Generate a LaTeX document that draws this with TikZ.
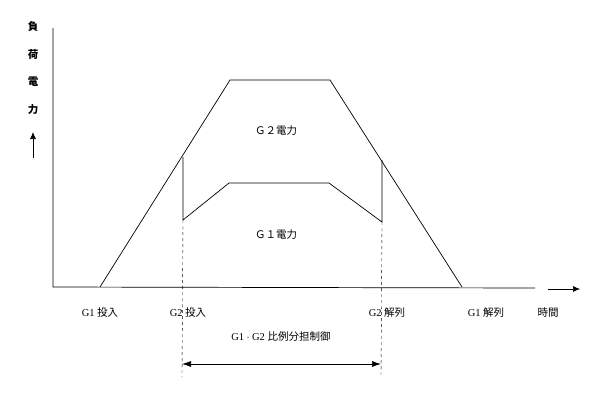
\documentclass[tikz,border=0pt]{standalone}
\usepackage{fontspec}
\setmainfont{Liberation Serif}
\newfontfamily\cjk{Noto Sans CJK JP}
\usetikzlibrary{arrows.meta}
\tikzset{
  lbl/.style={inner sep=1pt, font=\fontsize{10.5}{12}\selectfont},
  guide/.style={dashed, thin},
}
\begin{document}
\begin{tikzpicture}[x=1pt,y=-1pt, line width=0.7pt]
    \useasboundingbox (0,0) rectangle (605,400);

    % axes
    \coordinate (O) at (53,287);
    \coordinate (ytop) at (53,28);
    \coordinate (xend) at (535,288);
    \draw (ytop) -- (O) -- (xend);
    \coordinate (ta) at (548,289);
    \coordinate (tb) at (580,289);
    \draw[-{Latex[length=7pt,width=6pt]}] (ta) -- (tb);
    \node[lbl] (time) at (548,313) {\cjk 時間};

    % vertical axis label
    \foreach \ch [count=\i] in {負,荷,電,力}
        \node[lbl] (v\i) at (33,{27+27.5*(\i-1)}) {\cjk\bfseries \ch};
    \coordinate (pa) at (33,158);
    \coordinate (pb) at (33,132);
    \draw[-{Latex[length=7pt,width=6pt]}] (pa) -- (pb);

    % G1 + G2 power
    \coordinate (g1on) at (100,287);
    \coordinate (p1) at (230,80);
    \coordinate (p2) at (330,80);
    \coordinate (g1off) at (462,287);
    \draw (g1on) -- (p1) -- (p2) -- (g1off);

    % G1 power
    \coordinate (a1) at (183,157);
    \coordinate (a2) at (183,220);
    \coordinate (b1) at (229,183);
    \coordinate (b2) at (329,183);
    \coordinate (c2) at (382,222);
    \coordinate (c1) at (382,160);
    \draw (a1) -- (a2) -- (b1) -- (b2) -- (c2) -- (c1);

    \node[lbl] (g2p) at (276,131) {\cjk Ｇ２電力};
    \node[lbl] (g1p) at (276,235) {\cjk Ｇ１電力};

    % switching events
    \node[lbl] (e1) at (100,313) {G1 {\cjk 投入}};
    \node[lbl] (e2) at (188,313) {G2 {\cjk 投入}};
    \node[lbl] (e3) at (387,313) {G2 {\cjk 解列}};
    \node[lbl] (e4) at (486,313) {G1 {\cjk 解列}};

    % proportional sharing range
    \coordinate (d1) at (182,377);
    \coordinate (d2) at (381,377);
    \draw[guide] (a2) -- (d1);
    \draw[guide] (c2) -- (d2);
    \coordinate (r1) at (182,364);
    \coordinate (r2) at (381,364);
    \draw[{Latex[length=9pt,width=6pt]}-{Latex[length=9pt,width=6pt]}] (r1) -- (r2);
    \node[lbl] (share) at (281,337) {G1${}\cdot{}$G2 {\cjk 比例分担制御}};
\end{tikzpicture}
\end{document}
